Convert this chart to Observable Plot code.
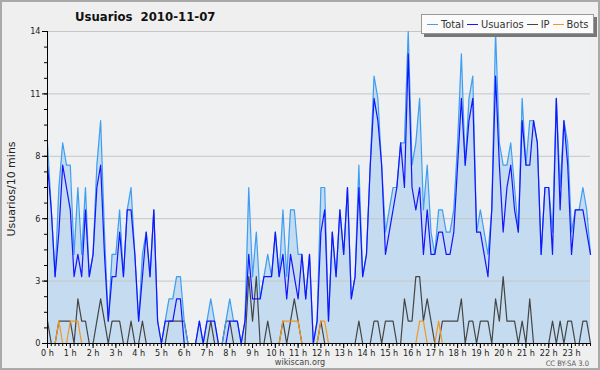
<!DOCTYPE html>
<html>
<head>
<meta charset="utf-8">
<script src="https://cdn.jsdelivr.net/npm/d3@7"></script>
<script src="https://cdn.jsdelivr.net/npm/@observablehq/plot@0.6"></script>
<style>
  html, body { margin: 0; padding: 0; background: #efefef; }
  #wrap { position: relative; width: 600px; height: 370px; background: #efefef; overflow: hidden;
          font-family: "DejaVu Sans Condensed", "DejaVu Sans", sans-serif; color: #222; }
  #chart { position: absolute; left: 0; top: 0; }
  #chart svg { display: block; }
  .border { position: absolute; left: 0; top: 0; width: 600px; height: 370px; box-sizing: border-box;
            border: 2px solid #a9a9a9; pointer-events: none; }
  .title { position: absolute; left: 75px; top: 9px; font-weight: bold; font-size: 13px; white-space: pre; color: #111; }
  .ylabel { position: absolute; left: 11px; top: 189px; transform: translate(-50%, -50%) rotate(-90deg);
            font-family: "DejaVu Sans", sans-serif; font-size: 11px; white-space: nowrap; color: #222; }
  .legend { position: absolute; left: 421px; top: 14px; width: 173px; height: 20px; box-sizing: border-box;
            background: #fbfbfb; border: 1px solid #999; box-shadow: 3px 3px 0 #777;
            display: flex; align-items: center; padding-left: 5px; font-size: 11px; color: #333; white-space: nowrap; }
  .legend .sw { display: inline-block; width: 11px; height: 0; border-top: 1.5px solid; margin-right: 3px; vertical-align: middle; }
  .legend .it { margin-right: 3px; }
  .site { position: absolute; left: 300px; top: 358px; line-height: 9px; transform: translateX(-50%); font-size: 9px; color: #444; }
  .cc { position: absolute; right: 11px; top: 360px; line-height: 8px; font-size: 7.5px; color: #555; }
</style>
</head>
<body>
<div id="wrap">
  <div id="chart"></div>
  <div class="title">Usuarios  2010-11-07</div>
  <div class="ylabel">Usuarios/10 mins</div>
  <div class="legend" id="legend"></div>
  <div class="site">wikiscan.org</div>
  <div class="cc">CC BY-SA 3.0</div>
  <div class="border"></div>
</div>
<script>
// 10-minute slots, 0:00 .. 23:50 (144 values each)
const total = [
  9,6,3,7,9,8,8,4,7,4,7,3,4,8,10,5,1,4,4,6,3,6,7,4,
  1,4,5,3,6,1,0,1,2,2,3,3,1,0,0,0,1,0,1,2,1,0,0,1,
  2,1,1,0,1,7,3,5,2,3,4,3,5,3,6,3,6,6,4,4,2,4,0,1,
  7,7,1,5,3,6,4,7,2,3,8,3,4,8,12,11,8,5,6,7,7,9,9,14,
  8,9,11,6,8,5,4,6,6,5,5,6,9,13,8,11,12,5,6,5,4,6,14,9,
  8,8,9,7,5,11,8,10,10,9,4,7,7,5,11,7,10,9,5,6,6,7,6,4
];
const usuarios = [
  8,6,3,5,8,7,6,3,4,3,6,3,4,7,8,4,1,3,3,5,3,6,6,4,
  1,3,5,3,6,1,0,1,1,1,2,2,0,0,0,0,1,0,1,1,1,0,0,0,
  1,1,1,0,1,4,2,2,2,3,3,3,5,3,4,2,4,3,2,4,2,4,0,1,
  5,6,1,5,3,6,4,7,2,3,7,3,4,8,11,10,8,4,5,6,7,9,7,13,
  7,6,7,4,6,4,4,5,5,4,4,5,8,11,8,10,11,5,5,4,3,6,12,8,
  5,7,8,6,5,10,8,8,10,9,4,7,7,4,11,6,10,8,4,6,6,6,5,4
];
const ip = [
  1,0,0,1,1,1,1,0,2,1,1,0,0,1,2,1,0,1,1,1,0,0,1,0,
  0,1,0,0,0,0,0,0,1,1,1,1,1,0,0,0,0,0,0,1,0,0,0,1,
  1,0,0,0,0,3,1,3,0,0,1,0,0,0,1,0,1,2,1,0,0,0,0,0,
  1,0,0,0,0,0,0,0,0,0,1,0,0,0,1,1,0,1,1,1,0,0,2,1,
  1,3,3,1,2,1,0,0,1,1,1,1,1,2,0,1,1,0,1,1,1,0,2,1,
  3,1,1,1,0,1,0,2,0,0,0,0,0,1,0,1,0,1,1,0,0,1,1,0
];
const bots = [
  0,0,0,1,0,0,1,1,1,0,0,0,0,0,0,0,0,0,0,0,0,0,0,0,
  0,0,0,0,0,0,0,0,0,0,0,0,0,0,0,0,0,0,0,0,0,0,0,0,
  0,0,0,0,0,0,0,0,0,0,0,0,0,0,1,1,1,1,1,0,0,0,0,0,
  1,1,0,0,0,0,0,0,0,0,0,0,0,0,0,0,0,0,0,0,0,0,0,0,
  0,0,1,1,0,0,0,1,0,0,0,0,0,0,0,0,0,0,0,0,0,0,0,0,
  0,0,0,0,0,0,0,0,0,0,0,0,0,0,0,0,0,0,0,0,0,0,0,0
];
const yTicks = [0, 2.8, 5.6, 8.4, 11.2, 14];
const yTickLabels = ["0", "3", "6", "8", "11", "14"];
const hourLabels = ["0 h","1 h","2 h","3 h","4 h","5 h","6 h","7 h","8 h","9 h","10 h","11 h",
                    "12 h","13 h","14 h","15 h","16 h","17 h","18 h","19 h","20 h","21 h","22 h","23 h"];
const seriesNames = ["Total", "Usuarios", "IP", "Bots"];
const seriesColors = ["#3d9ef2", "#1414ff", "#444444", "#f5961e"];

const rows = total.map((t, i) => ({ i, total: t, usuarios: usuarios[i], ip: ip[i], bots: bots[i] }));
const hourIdx = hourLabels.map((_, h) => h * 6);
const minorY = d3.range(21).map(k => +(k * 0.7).toFixed(2));

const chart = Plot.plot({
  width: 600, height: 370,
  marginLeft: 47, marginRight: 10, marginTop: 31, marginBottom: 27,
  x: { domain: [0, 143], label: null },
  y: { domain: [0, 14], label: null },
  style: { background: "transparent", fontFamily: "'DejaVu Sans Condensed', 'DejaVu Sans', sans-serif", fontSize: "9px", color: "#222" },
  marks: [
    Plot.frame({ fill: "#eef0f2", stroke: null }),
    Plot.areaY(rows, { x: "i", y: "total", fill: "#c5dcf0" }),
    Plot.ruleY(yTicks.slice(1), { stroke: "#c6c6c6", strokeWidth: 1 }),
    Plot.lineY(rows, { x: "i", y: "ip", stroke: seriesColors[2], strokeWidth: 1.2 }),
    Plot.lineY(rows, { x: "i", y: "bots", stroke: seriesColors[3], strokeWidth: 1.2 }),
    Plot.lineY(rows, { x: "i", y: "total", stroke: seriesColors[0], strokeWidth: 1.2 }),
    Plot.lineY(rows, { x: "i", y: "usuarios", stroke: seriesColors[1], strokeWidth: 1.2 }),
    Plot.ruleX([0], { stroke: "#000" }),
    Plot.ruleY([0], { stroke: "#000" }),
    Plot.axisY(minorY, { tickSize: 3, fill: "none", stroke: "#000", label: null }),
    Plot.axisY(yTicks, { tickSize: 5, tickPadding: 2, stroke: "#000", label: null, tickFormat: d => yTickLabels[yTicks.indexOf(d)] }),
    Plot.axisX(d3.range(144), { tickSize: 3, fill: "none", stroke: "#000", label: null }),
    Plot.axisX(hourIdx, { tickSize: 5, tickPadding: 1, stroke: "#000", label: null, tickFormat: d => hourLabels[d / 6] })
  ]
});
document.getElementById("chart").appendChild(chart);

const legend = document.getElementById("legend");
seriesNames.forEach((name, k) => {
  const sw = document.createElement("span");
  sw.className = "sw";
  sw.style.borderTopColor = seriesColors[k];
  const t = document.createElement("span");
  t.className = "it";
  t.textContent = name;
  legend.appendChild(sw);
  legend.appendChild(t);
});
</script>
</body>
</html>
